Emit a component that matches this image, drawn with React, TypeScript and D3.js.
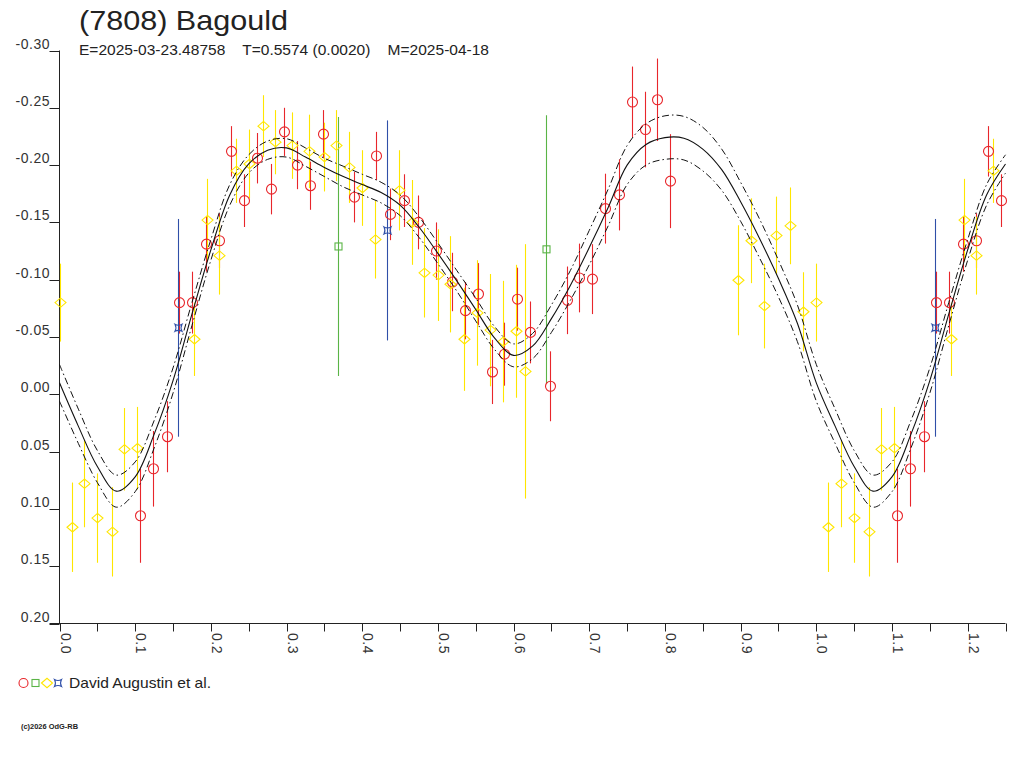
import React from "react";
import * as d3 from "d3";

// ---------- data ----------
const titleText = "(7808) Bagould";
const subtitleText = "E=2025-03-23.48758    T=0.5574 (0.0020)    M=2025-04-18";
const legendText = "David Augustin et al.";
const copyrightText = "(c)2026 OdG-RB";

const yTicks = [-0.3, -0.25, -0.2, -0.15, -0.1, -0.05, 0, 0.05, 0.1, 0.15, 0.2];
const xMajorTicks = [0, 0.1, 0.2, 0.3, 0.4, 0.5, 0.6, 0.7, 0.8, 0.9, 1.0, 1.1, 1.2];

// red circles: [phase, mag, err]
const redPoints: [number, number, number][] = [
  [0.107, 0.106, 0.041], [0.124, 0.065, 0.033], [0.142, 0.037, 0.031],
  [0.158, -0.080, 0.027], [0.175, -0.080, 0.027], [0.194, -0.131, 0.024],
  [0.211, -0.134, 0.024], [0.227, -0.212, 0.022], [0.244, -0.169, 0.023],
  [0.261, -0.206, 0.022], [0.280, -0.179, 0.022], [0.297, -0.229, 0.021],
  [0.314, -0.200, 0.021], [0.331, -0.182, 0.021], [0.348, -0.227, 0.021],
  [0.389, -0.172, 0.022], [0.418, -0.208, 0.021], [0.437, -0.157, 0.0225],
  [0.455, -0.169, 0.023], [0.474, -0.150, 0.0235], [0.498, -0.125, 0.025],
  [0.518, -0.098, 0.0255], [0.536, -0.073, 0.025], [0.553, -0.0875, 0.027],
  [0.571, -0.0195, 0.028], [0.587, -0.035, 0.0275], [0.605, -0.083, 0.0275],
  [0.622, -0.054, 0.027], [0.6485, -0.007, 0.0305], [0.671, -0.082, 0.0295],
  [0.687, -0.1015, 0.030], [0.704, -0.1005, 0.0305], [0.721, -0.162, 0.0305],
  [0.739, -0.174, 0.031], [0.756, -0.255, 0.031], [0.773, -0.231, 0.033],
  [0.790, -0.257, 0.036], [0.807, -0.186, 0.041],
];

// yellow diamonds
const yellowPoints: [number, number, number][] = [
  [0.000, -0.080, 0.034], [0.016, 0.116, 0.039], [0.033, 0.078, 0.038],
  [0.050, 0.108, 0.039], [0.069, 0.120, 0.039], [0.0855, 0.048, 0.036],
  [0.103, 0.047, 0.036], [0.178, -0.048, 0.032], [0.195, -0.152, 0.036],
  [0.211, -0.121, 0.034], [0.233, -0.195, 0.028], [0.251, -0.201, 0.030],
  [0.269, -0.234, 0.027], [0.285, -0.220, 0.028], [0.307, -0.217, 0.029],
  [0.330, -0.212, 0.032], [0.349, -0.207, 0.030], [0.366, -0.217, 0.031],
  [0.382, -0.198, 0.031], [0.400, -0.180, 0.033], [0.417, -0.135, 0.034],
  [0.448, -0.178, 0.035], [0.466, -0.150, 0.037], [0.482, -0.106, 0.039],
  [0.4995, -0.104, 0.040], [0.516, -0.096, 0.042], [0.534, -0.048, 0.045],
  [0.552, -0.071, 0.046], [0.569, -0.056, 0.049], [0.586, -0.046, 0.053],
  [0.603, -0.055, 0.058], [0.6145, -0.020, 0.111], [0.897, -0.0995, 0.048],
  [0.914, -0.134, 0.037], [0.931, -0.077, 0.037], [0.947, -0.1385, 0.034],
  [0.965, -0.147, 0.0335], [0.983, -0.072, 0.0345],
];

// green squares
const greenPoints: [number, number, number][] = [
  [0.3685, -0.129, 0.113], [0.643, -0.1265, 0.117],
];

// blue stars
const bluePoints: [number, number, number][] = [
  [0.157, -0.058, 0.095], [0.433, -0.143, 0.096],
];

// fitted curve (one period)
const curvePhases = [
  0.000, 0.025, 0.050, 0.075, 0.100, 0.125, 0.150, 0.175, 0.200, 0.225,
  0.250, 0.275, 0.300, 0.325, 0.350, 0.375, 0.400, 0.425, 0.450, 0.475,
  0.500, 0.525, 0.550, 0.575, 0.600, 0.625, 0.650, 0.675, 0.700, 0.725,
  0.750, 0.775, 0.800, 0.825, 0.850, 0.875, 0.900, 0.925, 0.950, 0.975,
];
const curveMags = [
  -0.010, 0.028, 0.063, 0.0845, 0.072, 0.035, -0.012, -0.070, -0.126, -0.174,
  -0.201, -0.213, -0.215, -0.207, -0.198, -0.190, -0.183, -0.176, -0.165, -0.146,
  -0.123, -0.099, -0.074, -0.049, -0.034, -0.042, -0.066, -0.095, -0.128, -0.163,
  -0.200, -0.218, -0.224, -0.2235, -0.214, -0.196, -0.168, -0.136, -0.101, -0.062,
];
const curveBand = [
  0.016, 0.015, 0.014, 0.014, 0.013, 0.012, 0.011, 0.010, 0.009, 0.009,
  0.008, 0.008, 0.008, 0.008, 0.008, 0.009, 0.009, 0.009, 0.009, 0.009,
  0.009, 0.009, 0.010, 0.010, 0.010, 0.011, 0.012, 0.013, 0.015, 0.016,
  0.017, 0.018, 0.019, 0.019, 0.019, 0.018, 0.017, 0.017, 0.016, 0.016,
];

// ---------- styles ----------
const RED = "#e8262b";
const YELLOW = "#ffe600";
const GREEN = "#5ab446";
const BLUE = "#2f4fa8";
const INK = "#222";
const FONT = "'Liberation Sans', Arial, sans-serif";

const X0 = 59.5, X1 = 1005.5, Y0 = 50.5, Y1 = 623.5;
const PMAX = 1.25;

type CP = { p: number; m: number; b: number };

export default function App() {
  const x = d3.scaleLinear().domain([0, PMAX]).range([X0, X1]);
  const y = d3.scaleLinear().domain([-0.3, 0.2]).range([Y0, Y1]);

  const repeat = (pts: [number, number, number][]) => {
    const out: [number, number, number][] = [];
    for (const p of pts) {
      for (const k of [0, 1]) {
        const ph = p[0] + k;
        if (ph <= PMAX + 1e-9) out.push([ph, p[1], p[2]]);
      }
    }
    return out;
  };

  const curvePts: CP[] = [];
  for (const k of [0, 1]) {
    curvePhases.forEach((ph, i) => {
      const pp = ph + k;
      if (pp <= PMAX + 1e-9) curvePts.push({ p: pp, m: curveMags[i], b: curveBand[i] });
    });
  }
  const line = (f: (d: CP) => number) =>
    d3.line<CP>()
      .x((d) => x(d.p))
      .y((d) => y(f(d)))
      .curve(d3.curveCatmullRom.alpha(0.5))(curvePts) || "";

  const minorTicks = d3.range(0, PMAX + 0.001, 0.05);
  const px = (p: number) => Math.round(x(p)) + 0.5;

  const errBars = (pts: [number, number, number][], color: string) =>
    repeat(pts).map((d, i) => (
      <line key={"e" + color + i} x1={px(d[0])} x2={px(d[0])}
        y1={y(d[1] - d[2])} y2={y(d[1] + d[2])} stroke={color} strokeWidth={1.1} />
    ));

  const diamond = (cx: number, cy: number) =>
    `M${cx - 5.5},${cy} L${cx},${cy - 4.7} L${cx + 5.5},${cy} L${cx},${cy + 4.7} Z`;
  const star = (cx: number, cy: number) =>
    `M${cx - 3.5},${cy - 3.5} Q${cx},${cy - 1.6} ${cx + 3.5},${cy - 3.5} Q${cx + 1.6},${cy} ${cx + 3.5},${cy + 3.5} Q${cx},${cy + 1.6} ${cx - 3.5},${cy + 3.5} Q${cx - 1.6},${cy} ${cx - 3.5},${cy - 3.5} Z`;

  return (
    <svg width={1024} height={768} style={{ position: "absolute", left: 0, top: 0, background: "#fff" }}
      fontFamily={FONT}>
      <rect x={0} y={0} width={1024} height={768} fill="#fff" />
      {/* title */}
      <text x={79} y={29.5} fontSize={28} fill={INK} textLength={209} lengthAdjust="spacingAndGlyphs">{titleText}</text>
      <text x={79} y={54.5} fontSize={15} fill={INK} textLength={410} lengthAdjust="spacingAndGlyphs"
        style={{ whiteSpace: "pre" }} xmlSpace="preserve">{subtitleText}</text>

      {/* y axis */}
      <line x1={X0} x2={X0} y1={Y0} y2={Y1} stroke={INK} />
      {yTicks.map((t) => (
        <g key={"yt" + t}>
          <line x1={X0 - 10} x2={X0} y1={Math.round(y(t)) + 0.5} y2={Math.round(y(t)) + 0.5} stroke={INK} />
          <text x={50} y={Math.round(y(t)) - 2} fontSize={14} fill="#333" textAnchor="end" letterSpacing={0.5}>
            {t < 0 ? "-" + Math.abs(t).toFixed(2) : t.toFixed(2)}
          </text>
        </g>
      ))}

      {/* x axis */}
      <line x1={X0 - 10} x2={X1} y1={Y1} y2={Y1} stroke={INK} />
      {minorTicks.map((t, i) => (
        <line key={"xt" + i} x1={px(t)} x2={px(t)} y1={Y1} y2={Y1 + 8} stroke={INK} />
      ))}
      {xMajorTicks.map((t) => (
        <text key={"xl" + t} transform={`translate(${px(t)},633) rotate(90)`}
          fontSize={14} fill="#333" letterSpacing={0.5}>{t.toFixed(1)}</text>
      ))}

      {/* error bars */}
      {errBars(redPoints, RED)}
      {errBars(yellowPoints, YELLOW)}
      {errBars(greenPoints, GREEN)}
      {errBars(bluePoints, BLUE)}

      {/* markers */}
      {repeat(redPoints).map((d, i) => (
        <circle key={"r" + i} cx={px(d[0])} cy={y(d[1])} r={5} fill="none" stroke={RED} strokeWidth={1.1} />
      ))}
      {repeat(yellowPoints).map((d, i) => (
        <path key={"yd" + i} d={diamond(px(d[0]), y(d[1]))} fill="none" stroke={YELLOW} strokeWidth={1.1} />
      ))}
      {repeat(greenPoints).map((d, i) => (
        <rect key={"g" + i} x={px(d[0]) - 3.5} y={y(d[1]) - 3.5} width={7} height={7} fill="none" stroke={GREEN} strokeWidth={1.1} />
      ))}
      {repeat(bluePoints).map((d, i) => (
        <path key={"b" + i} d={star(px(d[0]), y(d[1]))} fill="none" stroke={BLUE} strokeWidth={1.1} />
      ))}

      {/* fit curve with envelope */}
      <path d={line((d) => d.m - d.b)} fill="none" stroke="#111" strokeWidth={1} strokeDasharray="7,3,1.5,3" />
      <path d={line((d) => d.m + d.b)} fill="none" stroke="#111" strokeWidth={1} strokeDasharray="7,3,1.5,3" />
      <path d={line((d) => d.m)} fill="none" stroke="#111" strokeWidth={1.1} />

      {/* legend */}
      <circle cx={23.5} cy={683} r={4.5} fill="none" stroke={RED} strokeWidth={1.1} />
      <rect x={32} y={679.5} width={7} height={7} fill="none" stroke={GREEN} strokeWidth={1.1} />
      <path d={diamond(47, 683)} fill="none" stroke={YELLOW} strokeWidth={1.1} />
      <path d={star(58, 683)} fill="none" stroke={BLUE} strokeWidth={1.1} />
      <text x={69} y={688} fontSize={15} fill={INK} textLength={142} lengthAdjust="spacingAndGlyphs">{legendText}</text>

      {/* copyright */}
      <text x={21} y={729} fontSize={7.5} fill={INK} fontWeight="bold" textLength={57} lengthAdjust="spacingAndGlyphs">{copyrightText}</text>
    </svg>
  );
}
